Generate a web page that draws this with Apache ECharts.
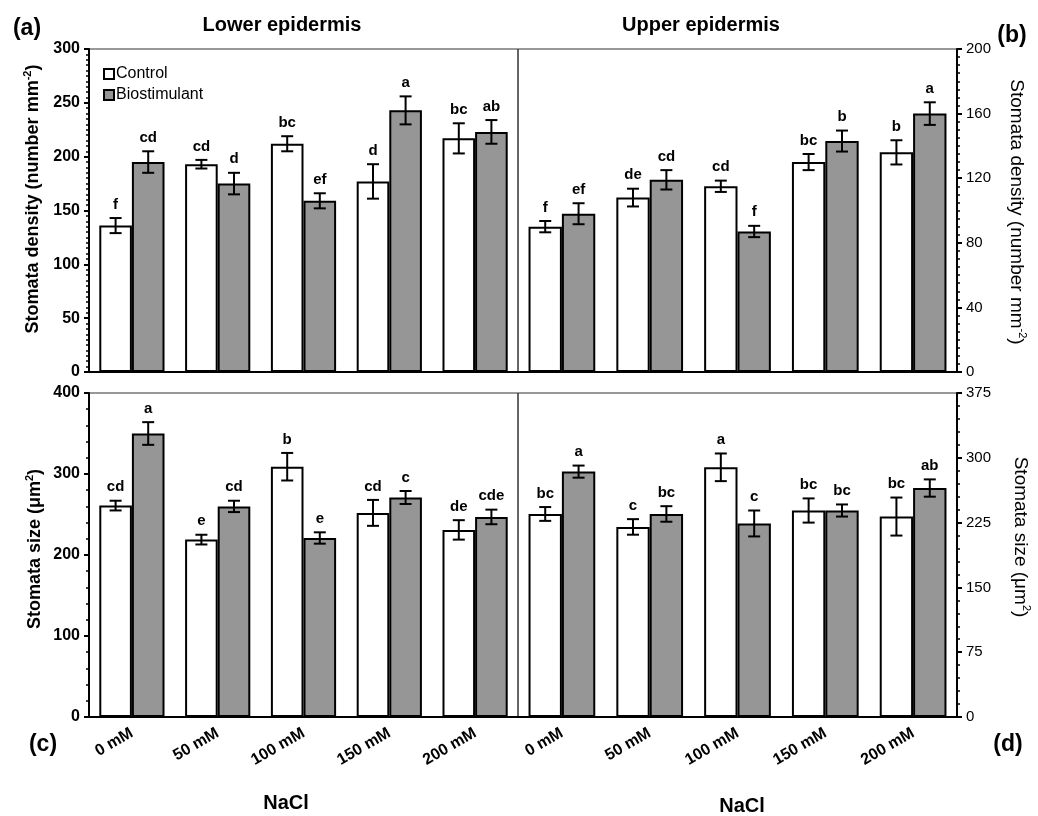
<!DOCTYPE html>
<html>
<head>
<meta charset="utf-8">
<title>Stomata density and size</title>
<script src="https://cdn.jsdelivr.net/npm/echarts@6/dist/echarts.min.js"></script>
<style>
  html, body { margin: 0; padding: 0; background: #fff; }
  #chart { width: 1038px; height: 816px; }
</style>
</head>
<body>
<div id="chart"></div>
<script>
var categories = ['0 mM', '50 mM', '100 mM', '150 mM', '200 mM'];

// (a) lower epidermis - stomata density
var lowDensCtrl = [136, 193, 212, 177, 217];
var lowDensCtrlErr = [7, 4, 7, 16, 14];
var lowDensCtrlLetters = ['f', 'cd', 'bc', 'd', 'bc'];
var lowDensBio = [195, 175, 159, 243, 223];
var lowDensBioErr = [10, 10, 7, 13, 11];
var lowDensBioLetters = ['cd', 'd', 'ef', 'a', 'ab'];

// (b) upper epidermis - stomata density
var upDensCtrl = [90, 108, 115, 130, 136];
var upDensCtrlErr = [3.5, 5.5, 3.5, 5, 7.5];
var upDensCtrlLetters = ['f', 'de', 'cd', 'bc', 'b'];
var upDensBio = [98, 119, 87, 143, 160];
var upDensBioErr = [6.5, 6, 3.5, 6.5, 7];
var upDensBioLetters = ['ef', 'cd', 'f', 'b', 'a'];

// (c) lower epidermis - stomata size
var lowSizeCtrl = [261, 219, 309, 252, 231];
var lowSizeCtrlErr = [6, 6, 17, 16, 12];
var lowSizeCtrlLetters = ['cd', 'e', 'b', 'cd', 'de'];
var lowSizeBio = [350, 260, 221, 271, 247];
var lowSizeBioErr = [14, 7, 7, 8, 9];
var lowSizeBioLetters = ['a', 'cd', 'e', 'c', 'cde'];

// (d) upper epidermis - stomata size
var upSizeCtrl = [235, 220, 289, 239, 232];
var upSizeCtrlErr = [8, 9, 16, 14, 22];
var upSizeCtrlLetters = ['bc', 'c', 'a', 'bc', 'bc'];
var upSizeBio = [284, 235, 224, 239, 265];
var upSizeBioErr = [7, 9, 15, 7, 10];
var upSizeBioLetters = ['a', 'bc', 'c', 'bc', 'ab'];

var FONT = '"Liberation Sans", Arial, sans-serif';
var BAR_W = 0.38;

function xAxisOf(gi, showLabel) {
  return {
    type: 'category', gridIndex: gi, data: categories,
    axisLine: { lineStyle: { color: '#000', width: 2 } },
    axisTick: { length: 6, lineStyle: { color: '#000', width: 2 } },
    axisLabel: {
      show: showLabel, rotate: 30, margin: 15, color: '#000',
      fontSize: 16, fontWeight: 'bold', fontFamily: FONT
    },
    splitLine: { show: false }
  };
}

function yAxisOf(gi, pos, max, step, minorSplit, bold) {
  return {
    type: 'value', gridIndex: gi, position: pos, min: 0, max: max, interval: step,
    axisLine: { show: true, lineStyle: { color: '#000', width: 2 } },
    axisTick: { show: true, length: 5, lineStyle: { color: '#000', width: 2 } },
    minorTick: { show: true, splitNumber: minorSplit, length: 3, lineStyle: { color: '#000', width: 1.5 } },
    axisLabel: {
      color: '#000', fontSize: bold ? 16 : 15, fontWeight: bold ? 'bold' : 'normal',
      fontFamily: FONT, margin: 9
    },
    splitLine: { show: false }
  };
}

function barOf(gi, name, vals, color) {
  return {
    type: 'bar', name: name, xAxisIndex: gi, yAxisIndex: gi, data: vals,
    barWidth: (BAR_W * 100) + '%', barGap: '0%',
    itemStyle: { color: color, borderColor: '#000', borderWidth: 2 }
  };
}

// error bars + significance letters, side -1 = control, +1 = biostimulant
function errOf(gi, vals, errs, letters, side) {
  return {
    type: 'custom', xAxisIndex: gi, yAxisIndex: gi, z: 5, silent: true,
    data: vals.map(function (v, i) { return [i, v, errs[i]]; }),
    renderItem: function (params, api) {
      var i = api.value(0), v = api.value(1), e = api.value(2);
      var band = api.size([1, 0])[0];
      var x = api.coord([i, v])[0] + side * band * BAR_W / 2;
      var yHi = api.coord([i, v + e])[1];
      var yLo = api.coord([i, v - e])[1];
      var cap = 6;
      var ls = { stroke: '#000', lineWidth: 2 };
      return {
        type: 'group',
        children: [
          { type: 'line', shape: { x1: x, y1: yHi, x2: x, y2: yLo }, style: ls },
          { type: 'line', shape: { x1: x - cap, y1: yHi, x2: x + cap, y2: yHi }, style: ls },
          { type: 'line', shape: { x1: x - cap, y1: yLo, x2: x + cap, y2: yLo }, style: ls },
          {
            type: 'text', x: x, y: yHi - 6,
            style: {
              text: letters[params.dataIndex], fill: '#000',
              font: 'bold 15px ' + FONT,
              align: 'center', verticalAlign: 'bottom',
              textAlign: 'center', textVerticalAlign: 'bottom'
            }
          }
        ]
      };
    }
  };
}

function txt(text, x, y, size, weight, rot) {
  return {
    type: 'text', x: x, y: y, rotation: rot || 0,
    style: {
      text: text, fill: '#000', font: weight + ' ' + size + 'px ' + FONT,
      align: 'center', verticalAlign: 'middle',
      textAlign: 'center', textVerticalAlign: 'middle'
    }
  };
}

function axisTitle(main, sup, x, y, size, weight, rot) {
  var t = txt('{a|' + main + '}{s|' + sup + '}{a|)}', x, y, size, weight, rot);
  t.style.rich = {
    a: { fontSize: size, fontWeight: weight, fontFamily: FONT, lineHeight: size + 4 },
    s: { fontSize: Math.round(size * 0.6), fontWeight: weight, fontFamily: FONT,
         lineHeight: size + 4, verticalAlign: 'top' }
  };
  return t;
}

var chart = echarts.init(document.getElementById('chart'));

var option = {
  backgroundColor: '#fff',
  animation: false,
  grid: [
    { left: 89, top: 49, width: 429, height: 323, show: true, borderColor: '#333', borderWidth: 1 },
    { left: 518, top: 49, width: 439, height: 323, show: true, borderColor: '#333', borderWidth: 1 },
    { left: 89, top: 393, width: 429, height: 324, show: true, borderColor: '#333', borderWidth: 1 },
    { left: 518, top: 393, width: 439, height: 324, show: true, borderColor: '#333', borderWidth: 1 }
  ],
  legend: {
    data: ['Control', 'Biostimulant'],
    orient: 'vertical', left: 98, top: 61,
    icon: 'rect', itemWidth: 10, itemHeight: 10, itemGap: 5,
    textStyle: { color: '#000', fontSize: 16, fontFamily: FONT, padding: [0, 0, 0, -3] }
  },
  xAxis: [xAxisOf(0, false), xAxisOf(1, false), xAxisOf(2, true), xAxisOf(3, true)],
  yAxis: [
    yAxisOf(0, 'left', 300, 50, 10, true),
    yAxisOf(1, 'right', 200, 40, 8, false),
    yAxisOf(2, 'left', 400, 100, 5, true),
    yAxisOf(3, 'right', 375, 75, 5, false)
  ],
  series: [
    barOf(0, 'Control', lowDensCtrl, '#fff'),
    barOf(0, 'Biostimulant', lowDensBio, '#969696'),
    barOf(1, 'Control', upDensCtrl, '#fff'),
    barOf(1, 'Biostimulant', upDensBio, '#969696'),
    barOf(2, 'Control', lowSizeCtrl, '#fff'),
    barOf(2, 'Biostimulant', lowSizeBio, '#969696'),
    barOf(3, 'Control', upSizeCtrl, '#fff'),
    barOf(3, 'Biostimulant', upSizeBio, '#969696'),
    errOf(0, lowDensCtrl, lowDensCtrlErr, lowDensCtrlLetters, -1),
    errOf(0, lowDensBio, lowDensBioErr, lowDensBioLetters, 1),
    errOf(1, upDensCtrl, upDensCtrlErr, upDensCtrlLetters, -1),
    errOf(1, upDensBio, upDensBioErr, upDensBioLetters, 1),
    errOf(2, lowSizeCtrl, lowSizeCtrlErr, lowSizeCtrlLetters, -1),
    errOf(2, lowSizeBio, lowSizeBioErr, lowSizeBioLetters, 1),
    errOf(3, upSizeCtrl, upSizeCtrlErr, upSizeCtrlLetters, -1),
    errOf(3, upSizeBio, upSizeBioErr, upSizeBioLetters, 1)
  ],
  graphic: [
    txt('(a)', 27, 29, 23, 'bold'),
    txt('(b)', 1012, 36, 23, 'bold'),
    txt('(c)', 43, 745, 23, 'bold'),
    txt('(d)', 1008, 745, 23, 'bold'),
    txt('Lower epidermis', 282, 25, 20, 'bold'),
    txt('Upper epidermis', 701, 25, 20, 'bold'),
    txt('NaCl', 286, 803, 20, 'bold'),
    txt('NaCl', 742, 806, 20, 'bold'),
    axisTitle('Stomata density (number mm', '-2', 33, 199, 18, 'bold', Math.PI / 2),
    axisTitle('Stomata size (μm', '2', 35, 549, 18, 'bold', Math.PI / 2),
    axisTitle('Stomata density (number mm', '-2', 1016, 212, 19, 'normal', -Math.PI / 2),
    axisTitle('Stomata size (μm', '2', 1020, 537, 19, 'normal', -Math.PI / 2)
  ]
};

chart.setOption(option);
</script>
</body>
</html>
